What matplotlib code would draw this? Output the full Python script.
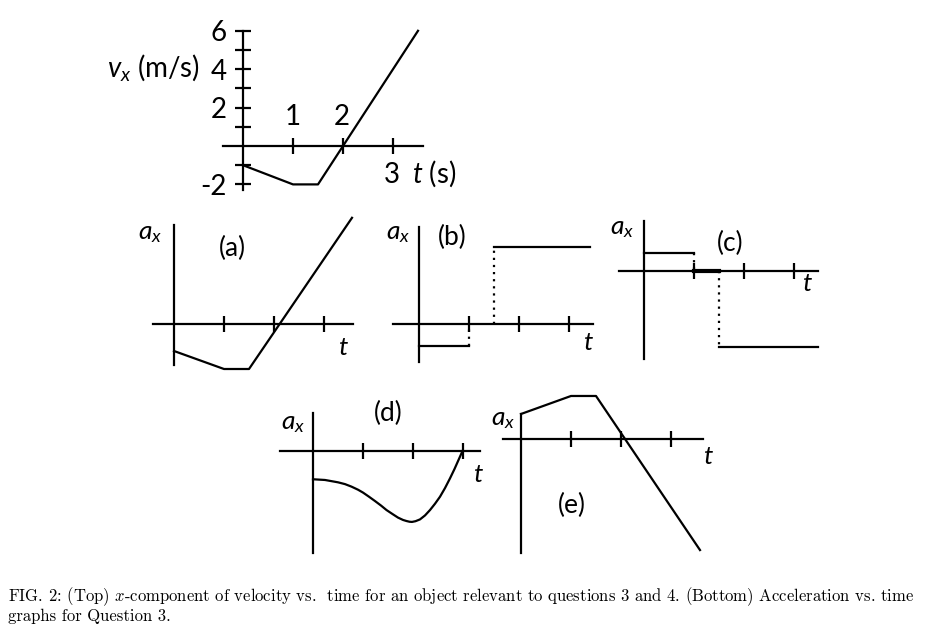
import matplotlib
matplotlib.use("Agg")
import matplotlib.pyplot as plt

plt.rcParams["font.family"] = ["Lato", "DejaVu Sans"]
plt.rcParams["mathtext.fontset"] = "custom"
plt.rcParams["mathtext.it"] = "Lato:italic"
plt.rcParams["mathtext.rm"] = "Lato"

W, H = 937, 642
LW = 1.6
BIG = 20     # top graph text
LAB = 19     # panel text

# top graph: velocity vs time
v_t = [0, 1, 1.5, 3.5]
v_x = [-1, -2, -2, 6]
v_major = [-2, 2, 4, 6]
v_minor = [-1, 1, 3, 5]
t_ticks = [1, 2, 3]

# (a)
a_t = [0, 1, 1.5, 3.56]
a_a = [-1.5, -2.5, -2.5, 5.9]

# (b) two constant pieces
b_t = [0, 1, 1.5, 3.42]
b_a = [-1.2, -1.2, 4.3, 4.3]

# (c) constant pieces, zero in between
c_t = [0, 1, 1.5, 3.48]
c_a = [1.0, 1.0, -4.2, -4.2]

# (d) smooth curve
d_t = [0, 0.24, 0.5, 0.64, 0.77, 0.9, 1.0, 1.12, 1.24, 1.36, 1.47, 1.6, 1.7, 1.8, 1.87,
       1.93, 1.98, 2.05, 2.14, 2.24, 2.34, 2.44, 2.54, 2.64, 2.74, 2.83, 2.91, 2.99]
d_a = [-1.57, -1.61, -1.74, -1.84, -1.98, -2.15, -2.31, -2.54, -2.78, -3.03, -3.28, -3.52,
       -3.70, -3.83, -3.89, -3.93, -3.94, -3.90, -3.80, -3.58, -3.28, -2.93, -2.54, -2.06,
       -1.52, -1.0, -0.5, 0]

# (e)
e_t = [0, 1, 1.5, 3.58]
e_a = [1.39, 2.39, 2.39, -6.17]


def make_axes(fig, origin, xlim, ylim, sx=50.0, sy=18.0):
    ox, oy = origin
    left = ox + xlim[0] * sx
    right = ox + xlim[1] * sx
    top = oy - ylim[1] * sy
    bottom = oy - ylim[0] * sy
    ax = fig.add_axes([left / W, 1 - bottom / H, (right - left) / W, (bottom - top) / H])
    ax.set_xlim(*xlim)
    ax.set_ylim(*ylim)
    ax.patch.set_visible(False)
    for s in ["top", "right"]:
        ax.spines[s].set_visible(False)
    ax.spines["left"].set_position(("data", 0))
    ax.spines["bottom"].set_position(("data", 0))
    for s in ["left", "bottom"]:
        ax.spines[s].set_linewidth(LW)
    ax.set_xticks(t_ticks)
    ax.set_yticks([])
    ax.tick_params(axis="both", which="both", direction="inout", length=11, width=LW,
                   labelbottom=False, labelleft=False)
    return ax


def curve(ax, t, a, **kw):
    ax.plot(t, a, color="black", lw=LW, clip_on=False, **kw)


def dotted(ax, t, a0, a1):
    ax.plot([t, t], [a0, a1], color="black", lw=LW, ls=(0, (1, 2.2)))


fig = plt.figure(figsize=(W / 100, H / 100), dpi=100)

# ---- top: v_x vs t
ax = make_axes(fig, (243, 146), (-0.4, 3.6), (-2.3, 6.0), sy=19.2)
ax.set_yticks(v_major)
ax.set_yticks(v_minor, minor=True)
ax.set_yticklabels([str(v) for v in v_major])
ax.tick_params(axis="y", which="major", labelleft=True, labelsize=BIG, pad=6)
curve(ax, v_t, v_x)
ax.text(1, 1.5, "1", fontsize=BIG, ha="center", va="center")
ax.text(1.97, 1.5, "2", fontsize=BIG, ha="center", va="center")
ax.text(2.98, -1.5, "3", fontsize=BIG, ha="center", va="center")
ax.text(3.38, -1.45, "$t$ (s)", fontsize=BIG, ha="left", va="center")
ax.text(-0.86, 4.1, "$v_x$ (m/s)", fontsize=BIG, ha="right", va="center")

# ---- (a)
ax = make_axes(fig, (174, 324), (-0.42, 3.58), (-2.3, 5.5))
curve(ax, a_t, a_a)
ax.text(-0.24, 5.1, "$a_x$", fontsize=LAB, ha="right", va="center")
ax.text(1.16, 4.2, "(a)", fontsize=LAB, ha="center", va="center")
ax.text(3.38, -1.3, "$t$", fontsize=LAB, ha="center", va="center")

# ---- (b)
ax = make_axes(fig, (419, 324), (-0.52, 3.48), (-2.1, 5.4))
curve(ax, b_t[:2], b_a[:2])
curve(ax, b_t[2:], b_a[2:])
dotted(ax, b_t[1], b_a[1], 0)
dotted(ax, b_t[2], 0, b_a[2])
ax.text(-0.18, 5.1, "$a_x$", fontsize=LAB, ha="right", va="center")
ax.text(0.66, 4.8, "(b)", fontsize=LAB, ha="center", va="center")
ax.text(3.38, -1.0, "$t$", fontsize=LAB, ha="center", va="center")

# ---- (c)
ax = make_axes(fig, (644, 271), (-0.5, 3.48), (-4.9, 2.8))
curve(ax, c_t[:2], c_a[:2])
curve(ax, c_t[2:], c_a[2:])
ax.plot([c_t[1], c_t[2]], [0, 0], color="black", lw=3.0)
dotted(ax, c_t[1], c_a[1], 0)
dotted(ax, c_t[2], 0, c_a[2])
ax.text(-0.2, 2.4, "$a_x$", fontsize=LAB, ha="right", va="center")
ax.text(1.72, 1.55, "(c)", fontsize=LAB, ha="center", va="center")
ax.text(3.26, -0.7, "$t$", fontsize=LAB, ha="center", va="center")

# ---- (d)
ax = make_axes(fig, (313, 451), (-0.66, 3.34), (-5.67, 2.1))
curve(ax, d_t, d_a)
ax.text(-0.16, 1.6, "$a_x$", fontsize=LAB, ha="right", va="center")
ax.text(1.5, 2.1, "(d)", fontsize=LAB, ha="center", va="center")
ax.text(3.3, -1.3, "$t$", fontsize=LAB, ha="center", va="center")

# ---- (e)
ax = make_axes(fig, (521, 439), (-0.36, 3.64), (-6.33, 1.39))
curve(ax, e_t, e_a)
ax.text(-0.12, 1.15, "$a_x$", fontsize=LAB, ha="right", va="center")
ax.text(1.02, -3.7, "(e)", fontsize=LAB, ha="center", va="center")
ax.text(3.74, -1.0, "$t$", fontsize=LAB, ha="center", va="center")

# ---- caption
cap1 = ("FIG. 2: (Top) $x$-component of velocity vs.  time for an object relevant to "
        "questions 3 and 4. (Bottom) Acceleration vs. time")
cap2 = "graphs for Question 3."
fig.text(8 / W, 1 - 597 / H, cap1, family="cmr10", math_fontfamily="cm",
         fontsize=12.0, ha="left", va="center")
fig.text(8 / W, 1 - 616 / H, cap2, family="cmr10", math_fontfamily="cm",
         fontsize=12.0, ha="left", va="center")

fig.savefig("out.png", dpi=100)
